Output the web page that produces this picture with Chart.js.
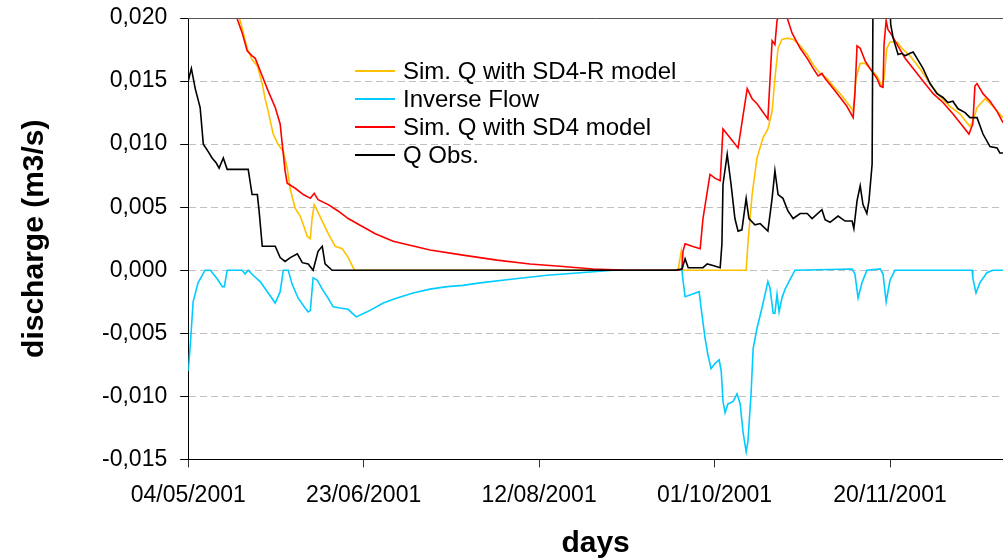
<!DOCTYPE html>
<html>
<head>
<meta charset="utf-8">
<script src="https://cdn.jsdelivr.net/npm/chart.js@4.4.1/dist/chart.umd.min.js"></script>
<style>
  html, body { margin: 0; padding: 0; background: #fff; }
  #wrap { position: relative; width: 1003px; height: 559px; overflow: hidden; }
  #legend { position: absolute; left: 355px; top: 57px; font-family: 'Liberation Sans', Arial, sans-serif; font-size: 24px; color: #000; }
  #legend .row { height: 28px; display: flex; align-items: center; white-space: nowrap; }
  #legend .swatch { width: 40px; height: 2px; margin-right: 8px; }
</style>
</head>
<body>
<div id="wrap">
  <canvas id="chart" width="1003" height="559"></canvas>
  <div id="legend"></div>
</div>
<script>
// x = days since 04/05/2001, y = discharge in m3/s
const xTickLabels = ['04/05/2001', '23/06/2001', '12/08/2001', '01/10/2001', '20/11/2001'];

const sdrDays = [0, 7, 14.8, 16.8, 18.2, 19.7, 21.1, 21.9, 22.8, 24.2, 25.6, 27.1, 28.2, 29.1, 30.5, 31.9, 32.8, 33.9, 34.8, 35.3, 35.9, 36.8, 38.2, 39.9, 41.9, 43.9, 45.6, 47.0, 47.6,
  139.6, 140.5, 141.0, 159.0, 159.5, 160.7, 162.1, 163.8, 165.2, 166.4, 167.2, 168.1, 169.2, 170.7, 172.4, 174.4, 176.4, 178.1, 180.1, 182.1, 183.8, 185.8, 188.6, 189.5,
  190.3, 191.5, 192.9, 194.3, 196.3, 197.7, 198.3, 199.1, 200.0, 202.0, 203.4, 205.7, 208.5, 211.4, 214.2, 217.1, 219.9, 222.8, 223.6, 224.8, 227.1, 229.3, 232.2];
const sdrQ = [0.036, 0.026, 0.0198, 0.0176, 0.0167, 0.0162, 0.0148, 0.0136, 0.0126, 0.0108, 0.0100, 0.0094, 0.0081, 0.0064, 0.0049, 0.0043, 0.0036, 0.0027, 0.0025, 0.0041, 0.0052, 0.0047, 0.0039, 0.0029, 0.0019, 0.0017, 0.0010, 0.0002, 0,
  0, 0.0015, 0, 0, 0.0021, 0.0060, 0.0089, 0.0105, 0.0112, 0.0126, 0.0152, 0.0176, 0.0183, 0.0184, 0.0183, 0.0178, 0.0171, 0.0163, 0.0156, 0.0152, 0.0146, 0.0140, 0.0130, 0.0126,
  0.0152, 0.0164, 0.0164, 0.0160, 0.0154, 0.0146, 0.0152, 0.0176, 0.0181, 0.0181, 0.0176, 0.0170, 0.0160, 0.0148, 0.0138, 0.0130, 0.0124, 0.0114, 0.0118, 0.0129, 0.0136, 0.0130, 0.0121];

const invDays = [0, 0.6, 1.4, 2.8, 4.8, 6.3, 8.3, 9.7, 10.3, 11.1, 15.4, 16.2, 17.1, 18.5, 20.5, 22.8, 24.8, 26.2, 27.1, 28.5, 29.6, 31.3, 33.3, 34.2, 34.8, 35.6, 36.8, 38.2, 39.6,
  41.3, 43.3, 45.6, 46.7, 47.9, 51.0, 55.6, 59.5, 64.1, 68.9, 73.8, 78.3, 83.2, 92.6, 102.3, 111.7, 121.1,
  139.6, 140.7, 141.0, 141.6, 143.6, 145.6, 146.4, 147.3, 148.1, 149.0, 150.1, 151.3, 151.9, 152.4, 153.0, 153.8, 155.3, 156.4, 157.3, 158.1, 159.0, 159.5, 160.4, 161.0,
  162.1, 163.5, 164.4, 165.2, 165.8, 166.7, 167.2, 167.8, 168.4, 169.2, 170.1, 172.9, 189.2, 190.0, 190.9, 192.0, 193.4, 197.2, 198.0, 198.9, 200.0, 201.4,
  223.4, 223.6, 224.5, 225.6, 227.6, 229.3, 232.8];
const invQ = [-0.0080, -0.0059, -0.0025, -0.0010, 0, 0, -0.0007, -0.0013, -0.0013, 0, 0, -0.0003, 0, -0.0004, -0.0009, -0.0018, -0.0026, -0.0017, 0, 0, -0.0011, -0.0022, -0.0030, -0.0033, -0.0032, -0.0006, -0.0008, -0.0015, -0.0021,
  -0.0029, -0.0030, -0.0031, -0.0034, -0.0037, -0.0033, -0.0026, -0.0022, -0.0018, -0.0015, -0.0013, -0.0012, -0.0010, -0.0007, -0.0004, -0.0002, 0,
  0, 0, -0.0008, -0.0021, -0.0019, -0.0017, -0.0035, -0.0054, -0.0067, -0.0078, -0.0074, -0.0071, -0.0080, -0.0104, -0.0113, -0.0106, -0.0104, -0.0098, -0.0106, -0.0128, -0.0144, -0.0136, -0.0098, -0.0062,
  -0.0046, -0.0030, -0.0019, -0.0009, -0.0014, -0.0034, -0.0034, -0.0019, -0.0033, -0.0022, -0.0015, 0, 0.0001, -0.0003, -0.0022, -0.0010, 0, 0.0001, -0.0003, -0.0025, -0.0008, 0,
  0, -0.0006, -0.0018, -0.0010, -0.0002, 0, 0];

const sdDays = [0, 7, 14.0, 15.4, 16.8, 18.2, 19.1, 21.1, 22.8, 24.8, 26.2, 26.8, 27.6, 28.2, 30.5, 32.8, 34.8, 35.9, 37.0, 39.9, 42.7, 45.6, 48.1, 53.3, 58.4, 68.9, 78.3, 88.0, 97.4, 106.8, 115.4, 125.4,
  139.6, 140.7, 141.0, 141.6, 143.6, 145.9, 146.7, 148.7, 150.1, 151.6, 152.4, 154.4, 156.7, 159.3, 160.7, 162.1, 165.2, 166.4, 167.2, 167.8, 169.2, 170.7, 172.1, 174.4,
  176.4, 178.1, 179.5, 180.6, 181.5, 183.8, 185.8, 187.7, 189.5, 190.0, 190.6, 191.5, 192.9, 194.3, 196.3, 197.2, 198.0, 198.3, 198.9, 199.4, 200.6, 202.0, 204.3, 206.6,
  209.4, 212.3, 215.1, 217.9, 220.8, 222.5, 223.6, 224.2, 224.8, 226.5, 228.5, 230.5, 232.2];
const sdQ = [0.038, 0.027, 0.0199, 0.0188, 0.0174, 0.0170, 0.0168, 0.0154, 0.0142, 0.0129, 0.0116, 0.0100, 0.0079, 0.0069, 0.0065, 0.0060, 0.0057, 0.0061, 0.0056, 0.0052, 0.0047, 0.0041, 0.0037, 0.0029, 0.0023, 0.0016, 0.0012, 0.0008, 0.0005, 0.0003, 0.0001, 0,
  0, 0.0001, 0.0015, 0.0021, 0.0019, 0.0017, 0.0041, 0.0076, 0.0073, 0.0071, 0.0112, 0.0105, 0.0097, 0.0144, 0.0136, 0.0132, 0.0120, 0.0182, 0.0179, 0.0198, 0.0207, 0.0200, 0.0188, 0.0176,
  0.0168, 0.0160, 0.0154, 0.0156, 0.0152, 0.0144, 0.0137, 0.0130, 0.0121, 0.0140, 0.0178, 0.0176, 0.0166, 0.0160, 0.0152, 0.0146, 0.0145, 0.0179, 0.0198, 0.0191, 0.0186, 0.0179, 0.0168, 0.0160,
  0.0150, 0.0140, 0.0133, 0.0124, 0.0114, 0.0108, 0.0116, 0.0146, 0.0148, 0.0140, 0.0134, 0.0126, 0.0117];

const obsDays = [0, 0.9, 2.0, 3.4, 4.3, 5.7, 6.8, 8.0, 8.8, 10.0, 11.1, 17.1, 18.2, 19.7, 20.2, 21.1, 24.8, 26.2, 27.6, 29.1, 31.1, 32.5, 34.2, 35.6, 37.0, 38.2, 39.0, 41.0,
  138.7, 140.7, 141.6, 142.5, 146.7, 147.9, 149.3, 151.6, 152.1, 152.4, 153.6, 154.7, 155.8, 156.7, 157.8, 159.0, 159.8, 161.5, 163.0, 165.2, 166.4, 167.2, 168.1, 169.5,
  170.9, 172.4, 174.4, 176.4, 177.8, 180.6, 181.5, 182.9, 185.2, 187.2, 189.2, 189.7, 190.6, 191.5, 192.3, 193.4, 194.0, 194.9, 195.6, 197.0, 199.0, 200.2, 200.9,
  202.3, 203.4, 204.3, 205.7, 206.6, 207.7, 209.4, 211.4, 213.4, 215.1, 216.5, 217.9, 219.4, 221.4, 222.8, 224.8, 226.5, 228.5, 230.5, 231.3, 232.8];
const obsQ = [0.0150, 0.0160, 0.0144, 0.0129, 0.0100, 0.0094, 0.0089, 0.0085, 0.0081, 0.0089, 0.0080, 0.0080, 0.0060, 0.0060, 0.0047, 0.0019, 0.0019, 0.0010, 0.0007, 0.0010, 0.0013, 0.0006, 0.0005, 0, 0.0015, 0.0019, 0.0005, 0,
  0, 0.0001, 0.0009, 0.0002, 0.0002, 0.0005, 0.0004, 0.0002, 0.0021, 0.0068, 0.0092, 0.0068, 0.0041, 0.0031, 0.0032, 0.0057, 0.0041, 0.0036, 0.0037, 0.0031, 0.0057, 0.0079, 0.0060, 0.0057,
  0.0047, 0.0041, 0.0045, 0.0045, 0.0041, 0.0048, 0.0040, 0.0038, 0.0043, 0.0039, 0.0039, 0.0033, 0.0055, 0.0067, 0.0052, 0.0045, 0.0055, 0.0084, 0.045, 0.040, 0.028, 0.0195, 0.0184,
  0.0171, 0.0172, 0.0170, 0.0172, 0.0173, 0.0168, 0.0160, 0.0148, 0.0140, 0.0137, 0.0133, 0.0134, 0.0128, 0.0125, 0.0121, 0.0121, 0.0108, 0.0098, 0.0097, 0.0093, 0.0093];

function pts(xs, ys) {
  return xs.map(function (x, i) { return { x: x, y: ys[i] }; });
}

function fmtQ(v) {
  if (Math.abs(v) < 1e-9) return '0,000';
  return v.toFixed(3).replace('.', ',');
}

Chart.defaults.font.family = "'Liberation Sans', Arial, Helvetica, sans-serif";
Chart.defaults.color = '#000';

// solid frame line along the top of the plot area
const topFrame = {
  id: 'topFrame',
  afterDraw: function (chart) {
    const a = chart.chartArea, ctx = chart.ctx;
    ctx.save();
    ctx.strokeStyle = '#555';
    ctx.lineWidth = 1;
    ctx.beginPath();
    ctx.moveTo(a.left, a.top + 0.5);
    ctx.lineTo(a.right, a.top + 0.5);
    ctx.stroke();
    ctx.restore();
  }
};

function line(label, data, color, order) {
  return {
    label: label,
    data: data,
    borderColor: color,
    backgroundColor: color,
    borderWidth: 1.6,
    pointRadius: 0,
    tension: 0,
    fill: false,
    order: order,
  };
}

const chart = new Chart(document.getElementById('chart'), {
  type: 'line',
  data: {
    datasets: [
      line('Sim. Q with SD4-R model', pts(sdrDays, sdrQ), '#FFC000', 3),
      line('Inverse Flow', pts(invDays, invQ), '#00CCFF', 2),
      line('Sim. Q with SD4 model', pts(sdDays, sdQ), '#FF0000', 1),
      line('Q Obs.', pts(obsDays, obsQ), '#000000', 0),
    ],
  },
  options: {
    responsive: false,
    animation: false,
    layout: { padding: { left: 0, right: 0, top: 18, bottom: 0 } },
    plugins: { legend: { display: false }, tooltip: { enabled: false } },
    scales: {
      x: {
        type: 'linear',
        min: 0,
        max: 232.2,
        grid: { drawOnChartArea: false, tickLength: 8, color: '#333' },
        border: { color: '#000', width: 1 },
        ticks: {
          stepSize: 50,
          includeBounds: false,
          maxRotation: 0,
          padding: 14,
          font: { size: 23 },
          callback: function (v) { return xTickLabels[Math.round(v / 50)]; },
        },
        title: { display: true, text: 'days', font: { size: 30, weight: 'bold', lineHeight: 1 }, padding: { top: 6, bottom: 0 } },
      },
      y: {
        min: -0.015,
        max: 0.020,
        grid: { color: '#c0c0c0', tickLength: 8, tickColor: '#000', tickBorderDash: [] },
        border: { color: '#000', width: 1, dash: [7, 4] },
        ticks: { stepSize: 0.005, padding: 13, font: { size: 23 }, callback: fmtQ },
        title: { display: true, text: 'discharge (m3/s)', font: { size: 30, weight: 'bold' }, padding: { top: 17, bottom: 36 } },
        // only half a label of room is needed above the top tick
        afterFit: function (scale) { scale.paddingTop = 14; scale.paddingBottom = 14; },
      },
    },
  },
  plugins: [topFrame],
});

// legend inside the plot, built from the datasets
const legendEl = document.getElementById('legend');
chart.data.datasets.forEach(function (ds) {
  const row = document.createElement('div');
  row.className = 'row';
  const sw = document.createElement('span');
  sw.className = 'swatch';
  sw.style.background = ds.borderColor;
  const tx = document.createElement('span');
  tx.textContent = ds.label;
  row.appendChild(sw);
  row.appendChild(tx);
  legendEl.appendChild(row);
});
</script>
</body>
</html>
